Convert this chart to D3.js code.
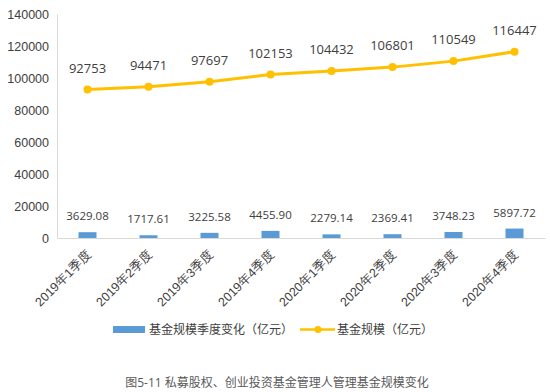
<!DOCTYPE html>
<html><head><meta charset="utf-8">
<script src="https://cdn.jsdelivr.net/npm/d3@7"></script>
<style>body{margin:0;background:#fff;}svg{display:block;font-family:"Open Sans","Noto Sans CJK SC",sans-serif;}</style>
</head><body>
<svg id="c" width="550" height="392"></svg>
<script>
const categories = ["2019年1季度","2019年2季度","2019年3季度","2019年4季度","2020年1季度","2020年2季度","2020年3季度","2020年4季度"];
const barValues = [3629.08,1717.61,3225.58,4455.90,2279.14,2369.41,3748.23,5897.72];
const lineValues = [92753,94471,97697,102153,104432,106801,110549,116447];
const yTicks = [0,20000,40000,60000,80000,100000,120000,140000];
const barName = "基金规模季度变化（亿元）";
const lineName = "基金规模（亿元）";
const title = "图5-11 私募股权、创业投资基金管理人管理基金规模变化";

const svg = d3.select("#c");
const x = d3.scaleBand().domain(categories).range([57,545]);
const y = d3.scaleLinear().domain([0,140000]).range([238,14]);
const blue = "#5b9bd5", gold = "#ffc000", txt = "#404040";

// y axis
const ya = svg.append("g").attr("transform","translate(57,0)")
  .call(d3.axisLeft(y).tickValues(yTicks).tickSize(0).tickPadding(8).tickFormat(d3.format("d")));
ya.select(".domain").attr("stroke","#d9d9d9");
ya.selectAll("text").attr("font-size",12.5).attr("fill",txt);

// x axis
const xa = svg.append("g").attr("transform","translate(0,238)")
  .call(d3.axisBottom(x).tickSize(0).tickPadding(0));
xa.select(".domain").attr("stroke","#d9d9d9");
xa.selectAll("text").attr("font-size",12.5).attr("fill",txt)
  .attr("text-anchor","end").attr("dy",0)
  .attr("transform","translate(5,17) rotate(-45)");

// bars
const bw = 18;
svg.selectAll("rect.bar").data(barValues).join("rect").attr("class","bar")
  .attr("x",(d,i)=>x(categories[i])+x.bandwidth()/2-bw/2)
  .attr("y",d=>y(d)).attr("width",bw).attr("height",d=>y(0)-y(d)).attr("fill",blue);
svg.selectAll("text.bl").data(barValues).join("text").attr("class","bl")
  .attr("x",(d,i)=>x(categories[i])+x.bandwidth()/2)
  .attr("y",d=>y(d)-12).attr("text-anchor","middle").attr("font-size",11.5).attr("fill",txt)
  .text(d=>d.toFixed(2));

// line
const line = d3.line().x((d,i)=>x(categories[i])+x.bandwidth()/2).y(d=>y(d));
svg.append("path").datum(lineValues).attr("d",line).attr("fill","none")
  .attr("stroke",gold).attr("stroke-width",3).attr("stroke-linejoin","round");
svg.selectAll("circle.pt").data(lineValues).join("circle").attr("class","pt")
  .attr("cx",(d,i)=>x(categories[i])+x.bandwidth()/2).attr("cy",d=>y(d)).attr("r",4).attr("fill",gold);
svg.selectAll("text.ll").data(lineValues).join("text").attr("class","ll")
  .attr("x",(d,i)=>x(categories[i])+x.bandwidth()/2)
  .attr("y",d=>y(d)-17).attr("text-anchor","middle").attr("font-size",13).attr("fill",txt)
  .text(d=>d);

// legend
const lg = svg.append("g");
lg.append("rect").attr("x",113).attr("y",326).attr("width",32).attr("height",7).attr("fill",blue);
lg.append("text").attr("x",149).attr("y",334).attr("font-size",12).attr("fill",txt).text(barName);
lg.append("line").attr("x1",300).attr("x2",335).attr("y1",329.5).attr("y2",329.5).attr("stroke",gold).attr("stroke-width",2.5);
lg.append("circle").attr("cx",318).attr("cy",329.5).attr("r",3.5).attr("fill",gold);
lg.append("text").attr("x",337).attr("y",334).attr("font-size",12).attr("fill",txt).text(lineName);

// title
svg.append("text").attr("x",277).attr("y",387).attr("text-anchor","middle")
  .attr("font-size",12).attr("fill","#595959").text(title);
</script>
</body></html>
